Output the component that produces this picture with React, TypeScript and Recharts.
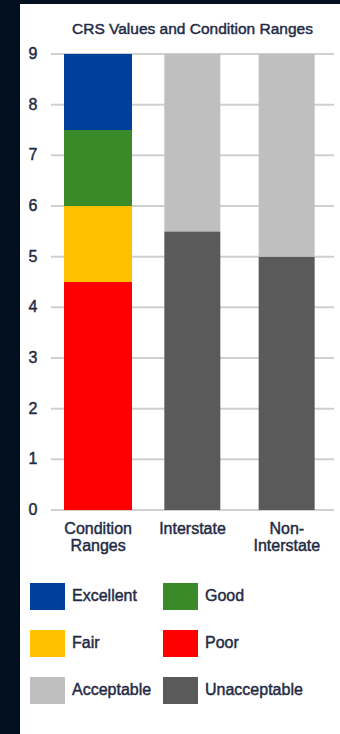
import React from "react";
import { BarChart, Bar, XAxis, YAxis, CartesianGrid } from "recharts";

const categories = ["Condition Ranges", "Interstate", "Non-Interstate"];
const poor = [4.5, 0, 0];
const fair = [1.5, 0, 0];
const good = [1.5, 0, 0];
const excellent = [1.5, 0, 0];
const unacceptable = [0, 5.5, 5.0];
const acceptable = [0, 3.5, 4.0];
const yTicks = [0, 1, 2, 3, 4, 5, 6, 7, 8, 9];

const seriesList = [
  { key: "Poor", values: poor, color: "#ff0000" },
  { key: "Fair", values: fair, color: "#ffc000" },
  { key: "Good", values: good, color: "#3a8a2a" },
  { key: "Excellent", values: excellent, color: "#003f9c" },
  { key: "Unacceptable", values: unacceptable, color: "#5a5a5a" },
  { key: "Acceptable", values: acceptable, color: "#bfbfbf" },
];
const legendOrder = ["Excellent", "Good", "Fair", "Poor", "Acceptable", "Unacceptable"];

const data = categories.map((name, i) => {
  const row: any = { name };
  seriesList.forEach((s) => (row[s.key] = s.values[i]));
  return row;
});

const TEXT = "#1f2b45";
const FONT = "'Liberation Sans', Arial, sans-serif";

const WideShape = (props: any) => {
  const { x, y, width, height, fill, index } = props;
  if (!height || height <= 0) return null;
  const w = index === 0 ? width * (68 / 56) : width;
  const nx = x + width / 2 - w / 2;
  return <rect x={nx} y={y} width={w} height={height} fill={fill} />;
};

const XTick = (props: any) => {
  const { x, y, payload } = props;
  const label = String(payload.value);
  let lines = [label];
  if (label === "Condition Ranges") lines = ["Condition", "Ranges"];
  if (label === "Non-Interstate") lines = ["Non-", "Interstate"];
  return (
    <text x={x} y={y} textAnchor="middle" fill={TEXT} stroke={TEXT} strokeWidth={0.45} fontSize={16} fontFamily={FONT}>
      {lines.map((l, i) => (
        <tspan key={i} x={x} dy={i === 0 ? 16 : 17}>
          {l}
        </tspan>
      ))}
    </text>
  );
};

const YTick = (props: any) => {
  const { x, y, payload } = props;
  return (
    <text x={x - 10} y={y} dy={5} textAnchor="middle" fill={TEXT} stroke={TEXT} strokeWidth={0.45} fontSize={16} fontFamily={FONT}>
      {payload.value}
    </text>
  );
};

const LegendBlock = () => {
  const colorOf = (k: string) => seriesList.find((s) => s.key === k)!.color;
  return (
    <div
      style={{
        display: "grid",
        gridTemplateColumns: "133px 140px",
        rowGap: 19,
        fontFamily: FONT,
        fontSize: 16,
        color: TEXT,
        WebkitTextStroke: "0.45px " + TEXT,
      }}
    >
      {legendOrder.map((k) => (
        <div key={k} style={{ display: "flex", alignItems: "center", height: 28 }}>
          <div style={{ width: 35, height: 27, background: colorOf(k), marginRight: 7, flexShrink: 0 }} />
          <span>{k}</span>
        </div>
      ))}
    </div>
  );
};

export default function App() {
  return (
    <div style={{ position: "fixed", left: 0, top: 0, width: 340, height: 734, background: "#03101f", overflow: "hidden" }}>
      <div style={{ position: "absolute", left: 20, top: 4, width: 320, height: 730, background: "#ffffff" }}>
        <div
          style={{
            position: "absolute",
            left: 0,
            top: 16,
            width: 345,
            textAlign: "center",
            fontFamily: FONT,
            fontSize: 15.5,
            color: TEXT,
            WebkitTextStroke: "0.45px " + TEXT,
          }}
        >
          CRS Values and Condition Ranges
        </div>
        <div style={{ position: "absolute", left: 0, top: 0 }}>
          <BarChart
            width={320}
            height={730}
            data={data}
            margin={{ top: 50, right: 6, left: 0, bottom: 0 }}
            barSize={56}
          >
            <CartesianGrid horizontal vertical={false} stroke="#d0d0d0" strokeWidth={2} />
            <XAxis
              dataKey="name"
              axisLine={false}
              tickLine={false}
              tick={<XTick />}
              height={224}
              interval={0}
            />
            <YAxis
              domain={[0, 9]}
              ticks={yTicks}
              axisLine={false}
              tickLine={false}
              tick={<YTick />}
              width={31}
              interval={0}
            />
            {seriesList.map((s) => (
              <Bar
                key={s.key}
                dataKey={s.key}
                stackId="a"
                fill={s.color}
                isAnimationActive={false}
                shape={<WideShape />}
              />
            ))}
          </BarChart>
        </div>
        <div style={{ position: "absolute", left: 10, top: 578 }}>
          <LegendBlock />
        </div>
      </div>
    </div>
  );
}
